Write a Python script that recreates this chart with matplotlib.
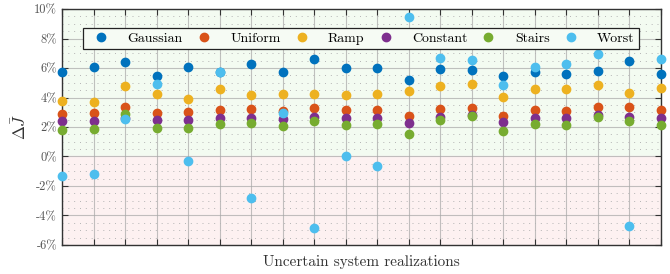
import matplotlib.pyplot as plt
import numpy as np
from matplotlib.ticker import FuncFormatter, MultipleLocator

plt.rcParams['font.family'] = 'serif'
plt.rcParams['font.serif'] = ['cmr10']
plt.rcParams['mathtext.fontset'] = 'cm'
plt.rcParams['axes.unicode_minus'] = False
plt.rcParams['axes.formatter.use_mathtext'] = True

realizations = np.arange(1, 21)

gaussian = [5.73, 6.07, 6.43, 5.46, 6.07, 5.70, 6.27, 5.73, 6.61, 6.02,
            6.02, 5.17, 5.95, 5.89, 5.44, 5.75, 5.61, 5.82, 6.50, 5.59]
uniform = [2.86, 2.95, 3.38, 2.97, 3.02, 3.13, 3.22, 3.08, 3.31, 3.13,
           3.15, 2.75, 3.24, 3.31, 2.77, 3.15, 3.06, 3.33, 3.33, 3.13]
ramp = [3.78, 3.72, 4.76, 4.24, 3.88, 4.55, 4.19, 4.26, 4.26, 4.19,
        4.21, 4.44, 4.76, 4.89, 4.01, 4.60, 4.58, 4.85, 4.28, 4.67]
constant = [2.38, 2.43, 2.61, 2.50, 2.50, 2.61, 2.63, 2.56, 2.68, 2.59,
            2.59, 2.29, 2.70, 2.79, 2.34, 2.63, 2.59, 2.79, 2.70, 2.61]
stairs = [1.82, 1.84, 2.86, 1.95, 1.95, 2.18, 2.25, 2.07, 2.39, 2.14,
          2.18, 1.55, 2.50, 2.75, 1.73, 2.20, 2.12, 2.68, 2.43, 2.12]
worst = [-1.34, -1.16, 2.52, 4.94, -0.28, 5.71, -2.81, 2.93, -4.83, 0.03,
         -0.62, 9.43, 6.66, 6.56, 4.85, 6.05, 6.27, 6.97, -4.71, 6.59]

series = [("Gaussian", gaussian, "#0072BD"),
          ("Uniform", uniform, "#D95319"),
          ("Ramp", ramp, "#EDB120"),
          ("Constant", constant, "#7E2F8E"),
          ("Stairs", stairs, "#77AC30"),
          ("Worst", worst, "#4DBEEE")]

fig = plt.figure(figsize=(6.7, 2.74), dpi=100)
ax = fig.add_axes([0.0925, 0.106, 0.894, 0.861])

ax.set_xlim(1, 20)
ax.set_ylim(-6, 10)
ax.axhspan(0, 10, color="#f3fbf1", zorder=0)
ax.axhspan(-6, 0, color="#fdf1f1", zorder=0)

for label, vals, col in series:
    ax.plot(realizations, vals, "o", color=col, ms=6, label=label,
            clip_on=False, zorder=3)

ax.set_xticks(realizations)
ax.set_xticklabels([])
ax.yaxis.set_major_locator(MultipleLocator(2))
ax.yaxis.set_minor_locator(MultipleLocator(0.5))
ax.yaxis.set_major_formatter(FuncFormatter(lambda v, p: "%d%%" % v))
ax.tick_params(axis="both", which="major", direction="in", length=4,
               top=True, right=True, labelsize=9, labelcolor="#555555",
               color="#333333")
ax.tick_params(axis="y", which="minor", length=0)

ax.grid(True, which="major", color="#a8a8a8", lw=0.8, alpha=0.7)
ax.grid(True, which="minor", axis="y", color="#b4b4b4", lw=0.7,
        linestyle=(0, (1, 5)))
ax.set_axisbelow(True)
for s in ax.spines.values():
    s.set_color("#333333")
    s.set_linewidth(1.0)

ax.set_xlabel("Uncertain system realizations", fontsize=11, color="#333333")
ax.set_ylabel(r"$\Delta\bar{J}$", fontsize=12, color="#333333", labelpad=4)

leg = ax.legend(ncol=6, loc="lower left", mode="expand",
                bbox_to_anchor=(0.035, 0.83, 0.928, 0.09),
                fontsize=10, frameon=True, fancybox=False, handletextpad=0.9,
                borderaxespad=0, borderpad=0.3, handlelength=2.0)
leg.get_frame().set_edgecolor("#222222")
leg.get_frame().set_linewidth(0.9)
leg.get_frame().set_facecolor("#f6fbf4")
leg.get_frame().set_alpha(1)

fig.savefig("out.png", dpi=100)
